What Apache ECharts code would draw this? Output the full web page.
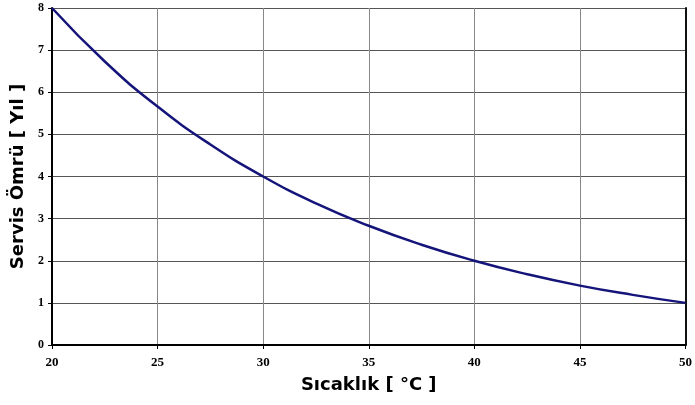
<!DOCTYPE html>
<html><head><meta charset="utf-8">
<script src="https://cdn.jsdelivr.net/npm/echarts@6/dist/echarts.min.js"></script>
<style>html,body{margin:0;padding:0;background:#fff}#c{width:695px;height:405px}</style>
</head><body><div id="c"></div>
<script>
const temps = [20, 22.5, 25, 27.5, 30, 32.5, 35, 37.5, 40, 42.5, 45, 47.5, 50];
const life = [8.0, 6.73, 5.66, 4.76, 4.0, 3.36, 2.83, 2.38, 2.0, 1.68, 1.41, 1.19, 1.0];
const xName = 'Sıcaklık [ °C ]';
const yName = 'Servis Ömrü [ Yıl ]';
const chart = echarts.init(document.getElementById('c'));
chart.setOption({
  animation: false,
  grid: {left: 52, right: 6, top: 8, bottom: 60},
  xAxis: {
    type: 'value', min: 20, max: 50, interval: 5,
    name: xName, nameLocation: 'middle', nameGap: 31,
    nameTextStyle: {fontFamily: 'DejaVu Sans', fontWeight: 'bold', fontSize: 18, color: '#000'},
    axisLine: {show: true, lineStyle: {color: '#000', width: 2}},
    axisTick: {show: true, length: 4, lineStyle: {color: '#000'}},
    axisLabel: {fontFamily: 'Liberation Serif', fontWeight: 'bold', fontSize: 13, color: '#000', margin: 11},
    splitLine: {show: true, lineStyle: {color: '#888', width: 1}}
  },
  yAxis: [{
    type: 'value', min: 0, max: 8, interval: 1,
    name: yName, nameLocation: 'middle', nameGap: 24,
    nameTextStyle: {fontFamily: 'DejaVu Sans', fontWeight: 'bold', fontSize: 18, color: '#000'},
    axisLine: {show: true, lineStyle: {color: '#000', width: 2}},
    axisTick: {show: true, length: 4, lineStyle: {color: '#000'}},
    axisLabel: {fontFamily: 'Liberation Serif', fontWeight: 'bold', fontSize: 12, color: '#000', margin: 8},
    splitLine: {show: true, lineStyle: {color: '#555', width: 1}}
  }, {
    type: 'value', min: 0, max: 8, interval: 1, position: 'right',
    axisLine: {show: true, onZero: false, lineStyle: {color: '#111', width: 2}},
    axisTick: {show: false}, axisLabel: {show: false}, splitLine: {show: false}
  }],
  series: [{
    type: 'line', data: temps.map((t, i) => [t, life[i]]),
    smooth: true, showSymbol: false,
    lineStyle: {color: '#14147a', width: 2.5}
  }]
});
</script></body></html>
